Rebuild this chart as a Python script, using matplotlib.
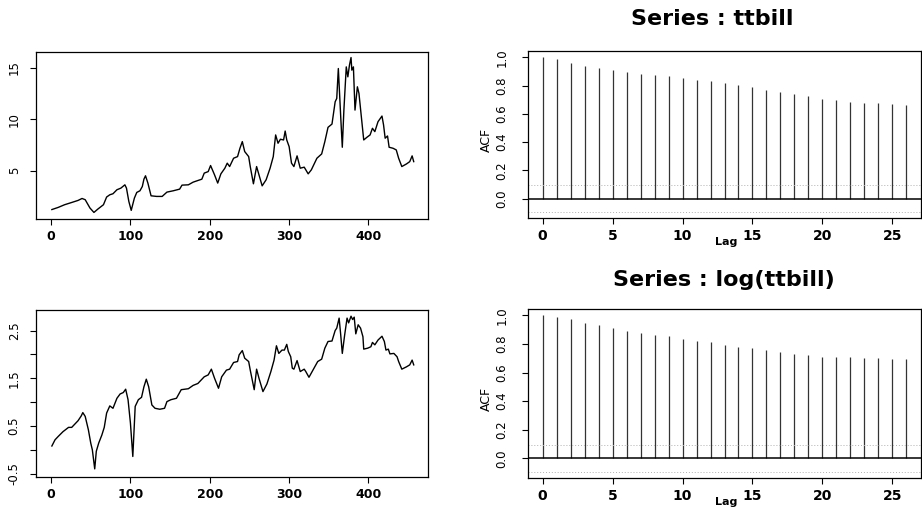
import matplotlib
matplotlib.use("Agg")
import matplotlib.pyplot as plt
import numpy as np

# Monthly treasury bill rate (index, level) and its log
ttbill_idx = [1, 9, 17, 26, 34, 39, 43, 49, 54, 59, 66, 70, 74, 78, 83, 88, 93, 95, 98, 101,
              105, 108, 112, 115, 117, 119, 122, 126, 133, 140, 146, 154, 162, 165, 173, 179,
              185, 190, 193, 198, 201, 206, 210, 214, 219, 222, 225, 230, 235, 238, 241, 244,
              249, 251, 255, 259, 262, 266, 271, 276, 280, 283, 286, 289, 293, 295, 297, 300,
              303, 306, 310, 314, 319, 324, 328, 335, 341, 345, 349, 354, 358, 360, 362, 365,
              367, 369, 372, 374, 376, 378, 379, 381, 383, 386, 388, 391, 394, 398, 402, 405,
              408, 412, 417, 419, 421, 424, 426, 431, 435, 438, 442, 448, 452, 455, 457]
ttbill_val = [1.2, 1.41, 1.67, 1.89, 2.09, 2.28, 2.16, 1.35, 0.92, 1.25, 1.67, 2.42, 2.64, 2.74,
              3.13, 3.29, 3.61, 3.29, 1.99, 1.12, 2.32, 2.87, 3.03, 3.45, 4.16, 4.49, 3.78, 2.54,
              2.48, 2.48, 2.90, 3.03, 3.19, 3.58, 3.61, 3.87, 4.03, 4.16, 4.75, 4.90, 5.49, 4.58,
              3.78, 4.68, 5.23, 5.72, 5.39, 6.20, 6.36, 7.17, 7.82, 6.85, 6.36, 5.39, 3.71, 5.39,
              4.58, 3.51, 4.10, 5.23, 6.36, 8.47, 7.66, 8.05, 7.98, 8.85, 7.98, 7.33, 5.72, 5.39,
              6.43, 5.23, 5.33, 4.68, 5.07, 6.20, 6.62, 7.82, 9.21, 9.53, 11.70, 12.03, 14.94,
              10.24, 7.27, 10.89, 15.10, 14.13, 15.26, 16.01, 14.78, 15.10, 10.89, 13.16, 12.51,
              10.24, 7.98, 8.24, 8.47, 9.12, 8.79, 9.76, 10.31, 9.44, 8.15, 8.37, 7.27, 7.17,
              7.01, 6.20, 5.39, 5.65, 5.87, 6.43, 5.87]

logbill_idx = [1, 5, 9, 15, 22, 26, 30, 34, 38, 40, 43, 47, 50, 52, 55, 57, 60, 64, 67, 70, 74,
               78, 83, 87, 91, 94, 97, 100, 103, 106, 110, 114, 117, 120, 123, 127, 131, 137,
               143, 146, 151, 158, 164, 173, 179, 185, 193, 198, 202, 206, 211, 215, 221, 225,
               230, 235, 237, 241, 244, 249, 251, 256, 259, 262, 267, 272, 277, 281, 284, 287,
               291, 294, 297, 299, 302, 304, 306, 310, 314, 319, 321, 325, 330, 336, 341, 345,
               349, 354, 358, 360, 363, 365, 367, 370, 373, 375, 378, 380, 382, 384, 387, 390,
               393, 394, 399, 403, 405, 408, 412, 417, 420, 422, 425, 427, 432, 436, 438, 442,
               448, 452, 455, 457]
logbill_val = [0.08, 0.21, 0.28, 0.38, 0.47, 0.47, 0.54, 0.61, 0.71, 0.78, 0.70, 0.42, 0.14,
               0.0, -0.40, -0.03, 0.14, 0.31, 0.47, 0.77, 0.92, 0.87, 1.08, 1.17, 1.20, 1.27,
               1.05, 0.56, -0.14, 0.91, 1.05, 1.10, 1.32, 1.48, 1.32, 0.94, 0.87, 0.85, 0.87,
               1.01, 1.05, 1.08, 1.26, 1.28, 1.35, 1.39, 1.53, 1.57, 1.69, 1.50, 1.29, 1.53,
               1.67, 1.69, 1.83, 1.85, 1.99, 2.08, 1.92, 1.85, 1.67, 1.26, 1.69, 1.50, 1.22,
               1.38, 1.64, 1.88, 2.18, 2.02, 2.09, 2.09, 2.21, 2.06, 1.95, 1.71, 1.69, 1.87,
               1.64, 1.69, 1.64, 1.52, 1.67, 1.85, 1.90, 2.13, 2.27, 2.28, 2.50, 2.55, 2.76,
               2.41, 2.02, 2.41, 2.76, 2.66, 2.80, 2.73, 2.78, 2.43, 2.62, 2.55, 2.37, 2.11,
               2.13, 2.16, 2.25, 2.20, 2.30, 2.38, 2.27, 2.09, 2.11, 2.01, 2.02, 1.95, 1.85,
               1.69, 1.74, 1.78, 1.88, 1.78]

# Sample autocorrelations, lags 0..26
acf_lags = list(range(27))
acf_ttbill = [1.0, 0.986, 0.962, 0.941, 0.925, 0.911, 0.894, 0.883, 0.876, 0.866, 0.852,
              0.838, 0.829, 0.817, 0.803, 0.786, 0.770, 0.756, 0.737, 0.723, 0.702, 0.697,
              0.685, 0.678, 0.676, 0.667, 0.662]
acf_logbill = [1.0, 0.991, 0.972, 0.948, 0.930, 0.908, 0.890, 0.876, 0.859, 0.852, 0.836,
               0.822, 0.812, 0.793, 0.779, 0.770, 0.754, 0.742, 0.728, 0.721, 0.711, 0.709,
               0.707, 0.704, 0.700, 0.697, 0.692]
n_obs = 457
acf_band = 2.0 / np.sqrt(n_obs)

series_xticks = [0, 100, 200, 300, 400]
ttbill_yticks = [5, 10, 15]
logbill_yticks = [-0.5, 0.0, 0.5, 1.0, 1.5, 2.0, 2.5]
logbill_ylabels = ["-0.5", "", "0.5", "", "1.5", "", "2.5"]
acf_xticks = [0, 5, 10, 15, 20, 25]
acf_yticks = [0.0, 0.2, 0.4, 0.6, 0.8, 1.0]

plt.rcParams["font.family"] = ["DejaVu Sans"]

fig = plt.figure(figsize=(9.22, 5.11), dpi=100)

W, H = 922.0, 511.0


def add_axes_px(left, top, right, bottom):
    return fig.add_axes([left / W, 1 - bottom / H, (right - left) / W, (bottom - top) / H])


def style_axes(ax, xsize=9, ypad=7):
    for s in ax.spines.values():
        s.set_linewidth(0.9)
        s.set_color("black")
    ax.tick_params(direction="out", length=4, width=0.8, colors="black")
    ax.tick_params(axis="x", pad=4)
    ax.tick_params(axis="y", pad=ypad)
    for lab in ax.get_xticklabels():
        lab.set_fontweight("bold")
        lab.set_fontsize(xsize)
    for lab in ax.get_yticklabels():
        lab.set_rotation(90)
        lab.set_va("center")
        lab.set_fontsize(8.5)


# Time series panels
ax1 = add_axes_px(36, 52, 428, 219)
ax1.plot(ttbill_idx, ttbill_val, color="black", lw=1.0)
ax1.set_xlim(-19, 475)
ax1.set_ylim(0.28, 16.55)
ax1.set_xticks(series_xticks)
ax1.set_yticks(ttbill_yticks)
style_axes(ax1)

ax2 = add_axes_px(36, 310, 428, 477)
ax2.plot(logbill_idx, logbill_val, color="black", lw=1.0)
ax2.set_xlim(-19, 475)
ax2.set_ylim(-0.57, 2.93)
ax2.set_xticks(series_xticks)
ax2.set_yticks(logbill_yticks)
ax2.set_yticklabels(logbill_ylabels)
style_axes(ax2)


# ACF panels
def acf_panel(ax, values, title, title_xy):
    ax.vlines(acf_lags, 0, values, color="#333333", lw=0.9)
    ax.axhline(0, color="black", lw=1.1)
    ax.axhline(acf_band, color="#b0b0b0", lw=0.7, ls=(0, (1, 2)))
    ax.axhline(-acf_band, color="#b0b0b0", lw=0.7, ls=(0, (1, 2)))
    ax.set_xlim(-1.04, 27.04)
    ax.set_ylim(-0.137, 1.044)
    ax.set_xticks(acf_xticks)
    ax.set_yticks(acf_yticks)
    ax.set_yticklabels(["%.1f" % v for v in acf_yticks])
    style_axes(ax, xsize=10, ypad=10)
    fig.text(title_xy[0] / W, 1 - title_xy[1] / H, title, fontsize=16,
             fontweight="bold", ha="center", va="center")
    ax.set_ylabel("ACF", fontsize=9)
    ax.yaxis.set_label_coords(-0.09, 0.47)
    ax.set_xlabel("Lag", fontsize=8, fontweight="bold")
    ax.xaxis.set_label_coords(0.504, -0.115)


ax3 = add_axes_px(528, 51, 921, 218)
acf_panel(ax3, acf_ttbill, "Series : ttbill", (712, 19))

ax4 = add_axes_px(528, 309, 921, 478)
acf_panel(ax4, acf_logbill, "Series : log(ttbill)", (724, 280))

fig.savefig("out.png", dpi=100)
